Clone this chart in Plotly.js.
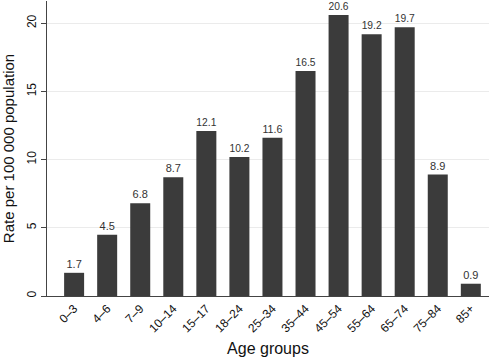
<!DOCTYPE html>
<html>
<head>
<meta charset="utf-8">
<script src="https://cdn.plot.ly/plotly-3.0.1.min.js"></script>
<style>html,body{margin:0;padding:0;background:#fff;}#chart{width:500px;height:360px;}</style>
</head>
<body>
<div id="chart"></div>
<script>
const ageGroups = ["0\u20133","4\u20136","7\u20139","10\u201314","15\u201317","18\u201324","25\u201334","35\u201344","45\u201354","55\u201364","65\u201374","75\u201384","85+"];
const rates = [1.7, 4.5, 6.8, 8.7, 12.1, 10.2, 11.6, 16.5, 20.6, 19.2, 19.7, 8.9, 0.9];
const yTicks = [0, 5, 10, 15, 20];

const trace = {
  type: 'bar',
  x: ageGroups,
  y: rates,
  marker: {color: '#3b3b3b', line: {width: 0}},
  text: rates.map(v => v.toFixed(1)),
  textposition: 'outside',
  textfont: {family: 'Liberation Sans, Arial, sans-serif', size: 11, color: '#333'},
  cliponaxis: false,
  hoverinfo: 'x+y'
};

const layout = {
  width: 500, height: 360,
  margin: {l: 47, r: 11, t: 1, b: 64},
  paper_bgcolor: '#fff', plot_bgcolor: '#fff',
  font: {family: 'Liberation Sans, Arial, sans-serif', color: '#111', size: 12},
  bargap: 0.395,
  showlegend: false,
  xaxis: {
    type: 'category',
    range: [-0.82, 12.55],
    showline: true, linecolor: '#444', linewidth: 1,
    ticks: '', tickangle: -45,
    tickfont: {size: 12, color: '#111'},
    showgrid: false, zeroline: false,
    title: {text: '\u00A0\u00A0\u00A0\u00A0\u00A0Age groups', font: {size: 16, color: '#111'}, standoff: 8}
  },
  yaxis: {
    range: [0, 21.63],
    tickvals: yTicks,
    ticktext: yTicks.map(String),
    tickangle: -90,
    ticks: 'outside', ticklen: 5, tickcolor: '#444',
    showline: true, linecolor: '#444', linewidth: 1,
    showgrid: true, gridcolor: '#ebebeb', gridwidth: 1,
    zeroline: false,
    tickfont: {size: 12, color: '#111'},
    title: {text: '\u00A0\u00A0\u00A0Rate per 100 000 population', font: {size: 15, color: '#111'}, standoff: 6}
  }
};

Plotly.newPlot('chart', [trace], layout, {staticPlot: true, displayModeBar: false});
</script>
</body>
</html>
